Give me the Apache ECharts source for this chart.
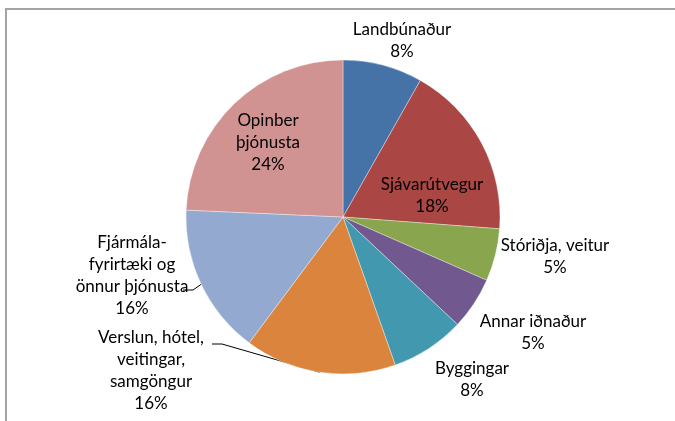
<!DOCTYPE html>
<html>
<head>
<meta charset="utf-8">
<script src="https://cdn.jsdelivr.net/npm/echarts@6/dist/echarts.min.js"></script>
<style>
  html, body { margin: 0; padding: 0; background: #fff; }
  #container { width: 675px; height: 421px; }
</style>
</head>
<body>
<div id="container"></div>
<script>
// sectors, clockwise from 12 o'clock
const categories = [
    'Landbúnaður',
    'Sjávarútvegur',
    'Stóriðja, veitur',
    'Annar iðnaður',
    'Byggingar',
    'Verslun, hótel,\nveitingar,\nsamgöngur',
    'Fjármála-\nfyrirtæki og\nönnur þjónusta',
    'Opinber\nþjónusta'
];
const values = [8.2, 18.0, 5.4, 5.4, 7.6, 15.6, 15.5, 24.3];

const colors = ['#4572A7', '#AA4643', '#89A54E', '#71588F', '#4198AF', '#DB843D', '#93A9CF', '#D19392'];

// where each data label sits (centre of the text block)
const labelPos = [
    [402, 41], [432, 196], [555, 257], [533, 333],
    [472, 380], [151, 371], [132, 276], [268, 143]
];
// labels that have a leader line: point where the line meets the text
const leaderEnd = { 5: [212, 344], 6: [183, 290] };

const myChart = echarts.init(document.getElementById('container'));

const option = {
    animation: false,
    color: colors,
    graphic: [{
        type: 'rect',
        shape: { x: 6, y: 9, width: 800, height: 600 },
        style: { fill: 'none', stroke: '#a3a3a3', lineWidth: 2 },
        silent: true
    }],
    series: [{
        type: 'pie',
        center: [343, 217],
        radius: 157,
        startAngle: 90,
        clockwise: true,
        avoidLabelOverlap: false,
        itemStyle: { borderColor: 'rgba(255,255,255,0.6)', borderWidth: 0.6 },
        label: {
            show: true,
            position: 'outside',
            color: '#000',
            fontFamily: 'Lato',
            fontSize: 17,
            lineHeight: 22,
            align: 'center',
            formatter: p => p.name + '\n' + Math.round(p.percent) + '%'
        },
        labelLine: { show: false },
        labelLayout: function (params) {
            const pos = labelPos[params.dataIndex];
            const res = { x: pos[0], y: pos[1], align: 'center', verticalAlign: 'middle' };
            const end = leaderEnd[params.dataIndex];
            if (end && params.labelLinePoints) {
                res.labelLinePoints = [params.labelLinePoints[0], [end[0] + 10, end[1]], end];
            }
            return res;
        },
        data: categories.map((name, i) => {
            const item = { name: name, value: values[i] };
            if (leaderEnd[i]) {
                item.labelLine = { show: true, lineStyle: { color: '#000', width: 1 } };
            }
            return item;
        })
    }]
};
myChart.setOption(option);
window.addEventListener('resize', () => {
    myChart.resize()
})
</script>
</body>
</html>
